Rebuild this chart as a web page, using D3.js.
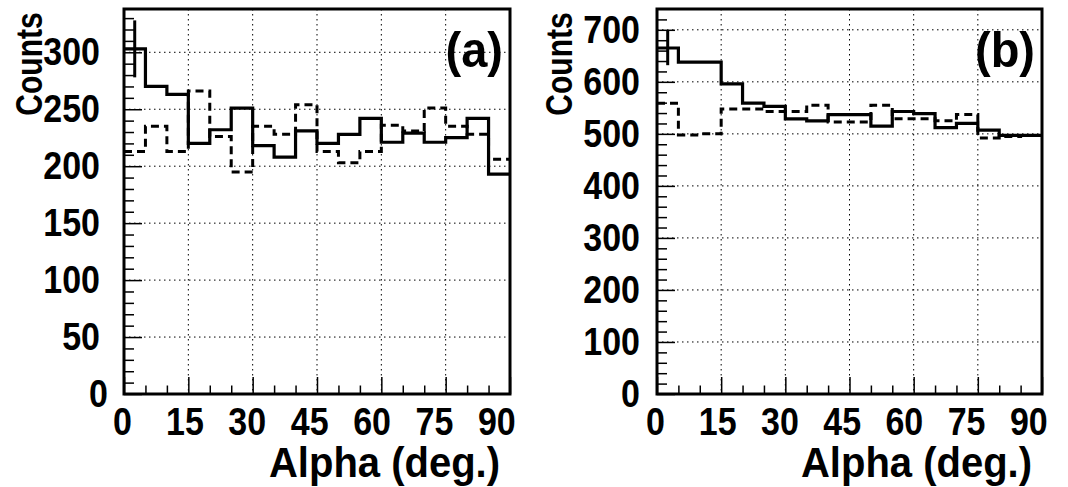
<!DOCTYPE html>
<html>
<head>
<meta charset="utf-8">
<script src="https://cdn.jsdelivr.net/npm/d3@7"></script>
<style>
  html, body { margin: 0; padding: 0; background: #fff; }
  svg { display: block; }
  text { font-family: "Liberation Sans", Arial, Helvetica, sans-serif; font-weight: bold; fill: #000; }
</style>
</head>
<body>
<svg id="chart" width="1068" height="487"></svg>
<script>
// ---- data ----
const binEdges = [0, 5, 10, 15, 20, 25, 30, 35, 40, 45, 50, 55, 60, 65, 70, 75, 80, 85, 90];
const xTicks = [0, 15, 30, 45, 60, 75, 90];
const xMinorTicks = [5, 10, 20, 25, 35, 40, 50, 55, 65, 70, 80, 85];
const xGrid = [15, 30, 45, 60, 75];

const aSolid  = [303, 270, 263, 220, 232, 251, 218, 208, 231, 220, 228, 242, 221, 229, 221, 225, 242, 193];
const aDashed = [213, 235, 213, 266, 226, 195, 235, 228, 254, 213, 203, 213, 236, 231, 251, 235, 228, 206];
const aErr = 25;
const aYTicks = [0, 50, 100, 150, 200, 250, 300];
const aYMinor = [10, 20, 30, 40, 60, 70, 80, 90, 110, 120, 130, 140, 160, 170, 180, 190, 210, 220, 230, 240, 260, 270, 280, 290, 310, 320, 330];
const aYMax = 338;

const bSolid  = [665, 638, 638, 596, 559, 553, 529, 525, 537, 537, 515, 543, 539, 512, 520, 507, 497, 497];
const bDashed = [559, 498, 500, 548, 548, 543, 543, 555, 523, 523, 555, 529, 529, 525, 537, 492, 495, 497];
const bErr = 33;
const bYTicks = [0, 100, 200, 300, 400, 500, 600, 700];
const bYMinor = [20, 40, 60, 80, 120, 140, 160, 180, 220, 240, 260, 280, 320, 340, 360, 380, 420, 440, 460, 480, 520, 540, 560, 580, 620, 640, 660, 680, 720];
const bYMax = 740;

const svg = d3.select("#chart");

function panel(cfg) {
  const { left, right, top, bottom, solid, dashed, err, yTicks, yMinor, yMax, label, yLabelPad, zeroShift, countsX } = cfg;
  const x = d3.scaleLinear().domain([0, 90]).range([left, right]);
  const y = d3.scaleLinear().domain([0, yMax]).range([bottom, top]);
  const g = svg.append("g");

  // grid lines
  const grid = g.append("g").attr("stroke", "#000").attr("stroke-width", 1).attr("stroke-dasharray", "1.5,3.5");
  grid.selectAll("line.gx").data(xGrid).join("line")
    .attr("x1", d => x(d)).attr("x2", d => x(d)).attr("y1", top).attr("y2", bottom);
  grid.selectAll("line.gy").data(yTicks.filter(d => d > 0)).join("line")
    .attr("x1", left).attr("x2", right).attr("y1", d => y(d)).attr("y2", d => y(d));

  // histograms
  const pts = vals => binEdges.map((e, i) => [e, vals[Math.min(i, vals.length - 1)]]);
  const line = d3.line().x(d => x(d[0])).y(d => y(d[1])).curve(d3.curveStepAfter);
  g.append("path").attr("d", line(pts(dashed))).attr("fill", "none")
    .attr("stroke", "#000").attr("stroke-width", 3).attr("stroke-dasharray", "8,5");
  g.append("path").attr("d", line(pts(solid))).attr("fill", "none")
    .attr("stroke", "#000").attr("stroke-width", 3.2);
  // error bar first bin
  const cx = x((binEdges[0] + binEdges[1]) / 2);
  g.append("line").attr("x1", cx).attr("x2", cx)
    .attr("y1", y(solid[0] - err)).attr("y2", y(solid[0] + err))
    .attr("stroke", "#000").attr("stroke-width", 3);

  // axes
  const fs = 34, sy = 1.12;
  const xAxis = d3.axisBottom(x).tickValues(xTicks).tickSizeInner(-17).tickSizeOuter(0).tickPadding(12.5).tickFormat(d3.format("d"));
  const gx = g.append("g").attr("transform", `translate(0,${bottom})`).call(xAxis);
  gx.selectAll("text").style("font-size", fs + "px").attr("x", d => -2 - 0.13 * d)
    .attr("transform", `scale(1,${sy})`);
  const xMin = d3.axisBottom(x).tickValues(xMinorTicks).tickSizeInner(-8.5).tickSizeOuter(0).tickFormat("");
  const gxm = g.append("g").attr("transform", `translate(0,${bottom})`).call(xMin);

  const yAxis = d3.axisLeft(y).tickValues(yTicks).tickSizeInner(-18).tickSizeOuter(0).tickPadding(yLabelPad).tickFormat(d3.format("d"));
  const gy = g.append("g").attr("transform", `translate(${left},0)`).call(yAxis);
  gy.selectAll("text").style("font-size", fs + "px").attr("x", d => d === 0 ? -yLabelPad + zeroShift : -yLabelPad)
    .attr("transform", `scale(1,${sy})`);
  const yMin = d3.axisLeft(y).tickValues(yMinor).tickSizeInner(-10).tickSizeOuter(0).tickFormat("");
  const gym = g.append("g").attr("transform", `translate(${left},0)`).call(yMin);

  [gx, gxm, gy, gym].forEach(a => {
    a.select(".domain").remove();
    a.selectAll(".tick line").attr("stroke", "#000").attr("stroke-width", 1.5);
    a.attr("font-family", null).attr("font-size", null);
  });

  // frame
  g.append("rect").attr("x", left).attr("y", top).attr("width", right - left).attr("height", bottom - top)
    .attr("fill", "none").attr("stroke", "#000").attr("stroke-width", 3);

  // titles
  g.append("text").attr("transform", `translate(${right - 10},477) scale(1,1.06)`).attr("text-anchor", "end")
    .style("font-size", "40px").text("Alpha (deg.)");
  g.append("text").attr("transform", `translate(${countsX},64) rotate(-90) scale(1,1.25)`).attr("text-anchor", "middle")
    .style("font-size", "30px").text("Counts");
  g.append("text").attr("transform", `translate(${right - 7},67) scale(1,1.05)`).attr("text-anchor", "end")
    .style("font-size", "47px").text(label);
}

panel({ left: 124, right: 510, top: 9, bottom: 394, solid: aSolid, dashed: aDashed, err: aErr,
        yTicks: aYTicks, yMinor: aYMinor, yMax: aYMax, label: "(a)", yLabelPad: 24, zeroShift: 8, countsX: 42 });
panel({ left: 657, right: 1042, top: 9, bottom: 394, solid: bSolid, dashed: bDashed, err: bErr,
        yTicks: bYTicks, yMinor: bYMinor, yMax: bYMax, label: "(b)", yLabelPad: 17, zeroShift: 0, countsX: 572 });
</script>
</body>
</html>
